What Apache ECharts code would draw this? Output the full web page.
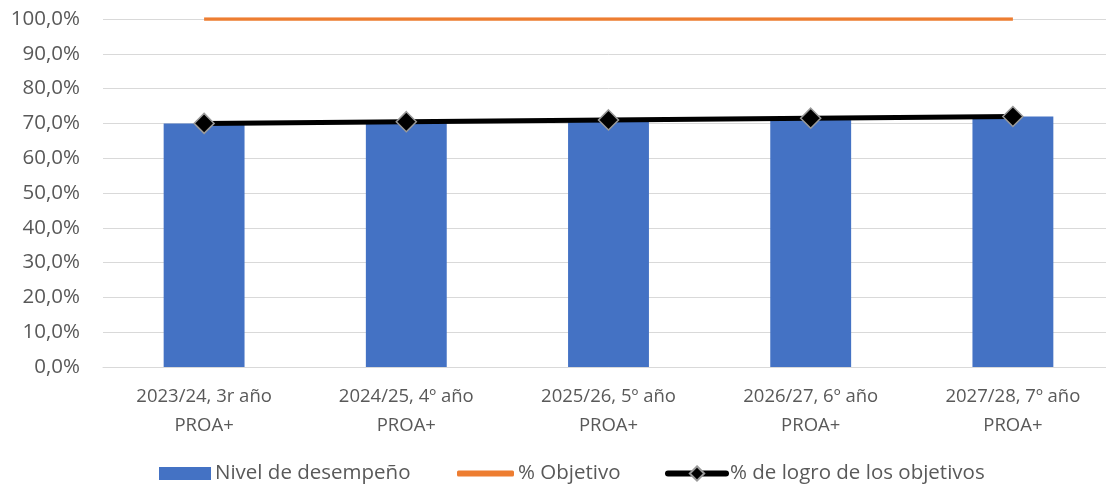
<!DOCTYPE html>
<html>
<head>
<meta charset="utf-8">
<script src="https://cdn.jsdelivr.net/npm/echarts@6/dist/echarts.min.js"></script>
<style>
  html, body { margin: 0; padding: 0; background: #fff; overflow: hidden; }
  #chart { width: 1120px; height: 486px; }
</style>
</head>
<body>
<div id="chart"></div>
<script>
// Categories (school years of the PROA+ programme)
const categories = [
  '2023/24, 3r año\nPROA+',
  '2024/25, 4º año\nPROA+',
  '2025/26, 5º año\nPROA+',
  '2026/27, 6º año\nPROA+',
  '2027/28, 7º año\nPROA+'
];
// Series values, in percent
const nivelDesempeno = [70.0, 70.5, 71.0, 71.5, 72.0];
const objetivo = [100, 100, 100, 100, 100];
const logroObjetivos = [70.0, 70.5, 71.0, 71.5, 72.0];
// Value-axis range and step
const yMin = 0, yMax = 100, yStep = 10;

const FONT = '"Open Sans", Roboto, sans-serif';
const TEXT = '#595959';
const GRID = '#d9d9d9';
const BLUE = '#4472c4';
const ORANGE = '#ed7d31';

const legendText = { fontFamily: FONT, fontSize: 20.5, color: TEXT, padding: [0, 0, 0, -1] };
const legendBase = { top: 463, padding: 0 };

const chart = echarts.init(document.getElementById('chart'), null, { renderer: 'canvas' });
chart.setOption({
  animation: false,
  backgroundColor: '#ffffff',
  textStyle: { fontFamily: FONT, color: TEXT },
  grid: { left: 103, right: 6, top: 19, bottom: 119, containLabel: false },
  legend: [
    Object.assign({}, legendBase, {
      left: 159,
      itemWidth: 52, itemHeight: 13,
      textStyle: legendText,
      data: [{ name: 'Nivel de desempeño', icon: 'rect', itemStyle: { color: BLUE } }]
    }),
    Object.assign({}, legendBase, {
      left: 457,
      itemWidth: 57, itemHeight: 6,
      textStyle: legendText,
      data: [{ name: '% Objetivo', icon: 'roundRect', itemStyle: { color: ORANGE } }]
    }),
    Object.assign({}, legendBase, {
      left: 665,
      itemWidth: 58, itemHeight: 18,
      textStyle: legendText,
      data: [{ name: '% de logro de los objetivos', lineStyle: { width: 6, cap: 'round' } }]
    })
  ],
  xAxis: {
    type: 'category',
    data: categories,
    axisLine: { lineStyle: { color: GRID, width: 1 } },
    axisTick: { show: false },
    axisLabel: { fontFamily: FONT, fontSize: 18.5, color: TEXT, lineHeight: 29, margin: 15.5 }
  },
  yAxis: {
    type: 'value',
    min: yMin,
    max: yMax,
    interval: yStep,
    axisLine: { show: false },
    axisTick: { show: false },
    splitLine: { lineStyle: { color: GRID, width: 1 } },
    axisLabel: {
      fontFamily: FONT, fontSize: 20.5, color: TEXT, margin: 23,
      formatter: v => v.toFixed(1).replace('.', ',') + '%'
    }
  },
  series: [
    {
      name: 'Nivel de desempeño',
      type: 'bar',
      data: nivelDesempeno,
      barWidth: '40%',
      itemStyle: { color: BLUE }
    },
    {
      name: '% Objetivo',
      type: 'line',
      data: objetivo,
      symbol: 'none',
      lineStyle: { color: ORANGE, width: 3.5 },
      itemStyle: { color: ORANGE }
    },
    {
      name: '% de logro de los objetivos',
      type: 'line',
      data: logroObjetivos,
      symbol: 'diamond',
      symbolSize: 20,
      lineStyle: { color: '#000000', width: 5 },
      itemStyle: { color: '#000000', borderColor: '#9a9a9a', borderWidth: 1.5 },
      z: 5
    }
  ]
});
</script>
</body>
</html>
